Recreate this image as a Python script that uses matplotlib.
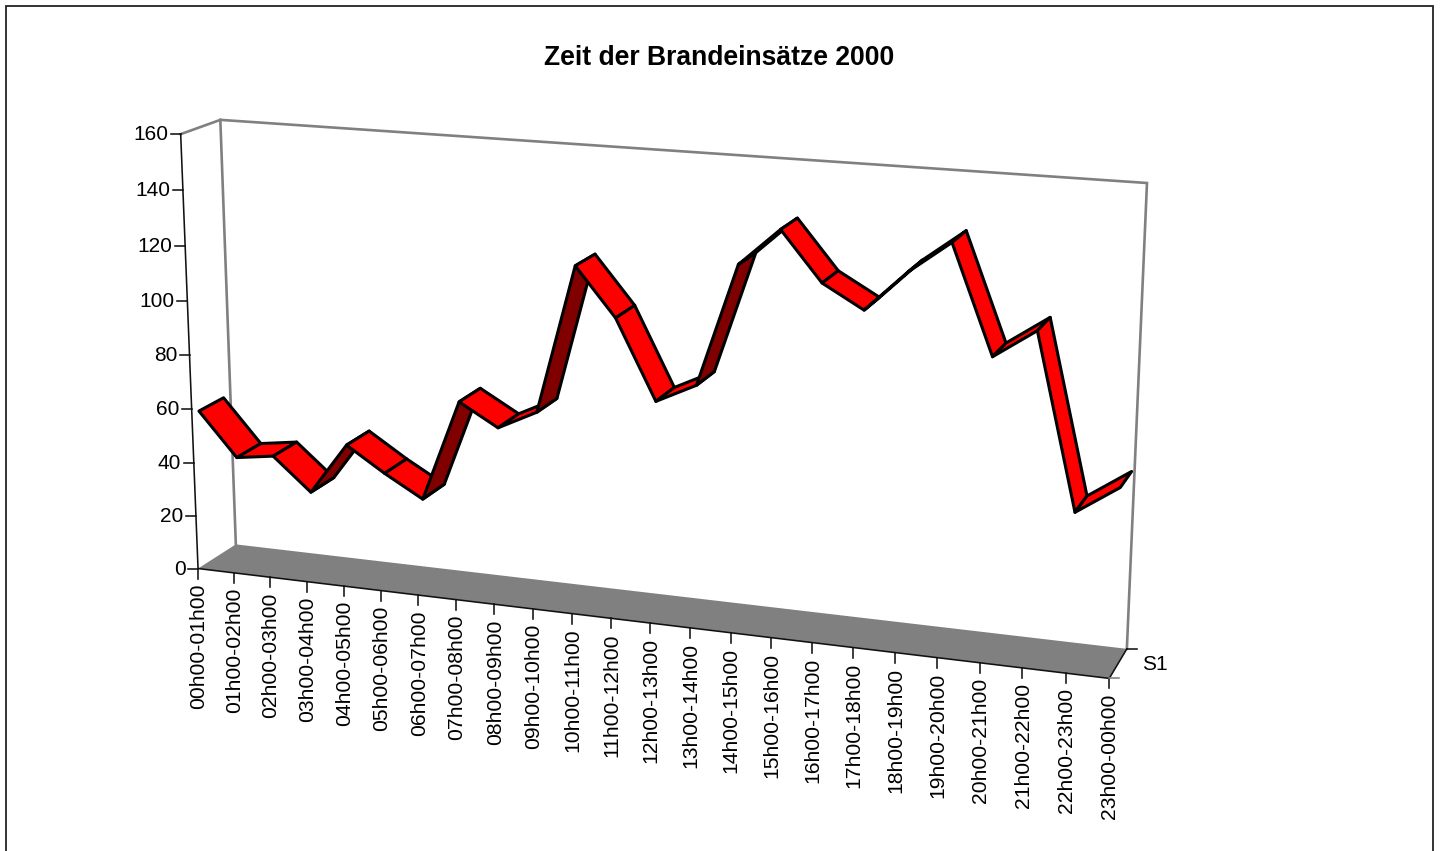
import numpy as np
import matplotlib
matplotlib.use("Agg")
import matplotlib.pyplot as plt
from matplotlib.patches import Polygon

plt.rcParams['font.family'] = ['Liberation Sans', 'DejaVu Sans']

title = "Zeit der Brandeinsätze 2000"
hours = ["00h00-01h00", "01h00-02h00", "02h00-03h00", "03h00-04h00", "04h00-05h00", "05h00-06h00",
         "06h00-07h00", "07h00-08h00", "08h00-09h00", "09h00-10h00", "10h00-11h00", "11h00-12h00",
         "12h00-13h00", "13h00-14h00", "14h00-15h00", "15h00-16h00", "16h00-17h00", "17h00-18h00",
         "18h00-19h00", "19h00-20h00", "20h00-21h00", "21h00-22h00", "22h00-23h00", "23h00-00h00"]
values = [58, 42, 44, 32, 51, 42, 34, 71, 63, 70, 123, 106,
          78, 85, 128, 141, 124, 116, 130, 141, 104, 114, 54, 64]
y_ticks = [0, 20, 40, 60, 80, 100, 120, 140, 160]
series_name = "S1"

W, H = 1442, 851
fig = plt.figure(figsize=(W / 100, H / 100), dpi=100, facecolor="white")
ax = fig.add_axes([0, 0, 1, 1])
ax.set_xlim(0, W)
ax.set_ylim(H, 0)
ax.axis("off")

# Perspective camera of the 3D box, fitted to where the box corners lie on the canvas
n = len(hours) - 1
ymax = y_ticks[-1]
anchors = [((0, 0, 0), (198, 568)), ((0, ymax, 0), (181, 134)), ((n, 0, 0), (1109, 679)),
           ((0, 0, 1), (236, 545)), ((0, ymax, 1), (220, 120)), ((n, ymax, 1), (1147, 183)),
           ((n, 0, 1), (1127, 648)), ((12, 0, 0), (651, 623.2)), ((6, 0, 0), (418, 594.8)),
           ((18, 0, 0), (895, 652.9))]
rows = []
for (a, b, c), (px, py) in anchors:
    a, b, c = a / n, b / ymax, c
    rows.append([a, b, c, 1, 0, 0, 0, 0, -px * a, -px * b, -px * c, -px])
    rows.append([0, 0, 0, 0, a, b, c, 1, -py * a, -py * b, -py * c, -py])
cam = np.linalg.svd(np.array(rows, float))[2][-1].reshape(3, 4)


def proj(cat, val, depth):
    h = cam @ np.array([cat / n, val / ymax, depth, 1.0])
    return h[0] / h[2], h[1] / h[2]


GRAY = "#808080"
INK = "#000000"
d0, d1 = 0.18, 0.82

# frame
ax.plot([5.8, 5.8, 1432.5, 1432.5], [H + 5, 5.5, 5.5, H + 5], color="#222222", lw=1.3, zorder=1,
        solid_joinstyle="miter")

# floor
ax.add_patch(Polygon([proj(0, 0, 0), proj(0, 0, 1), proj(n, 0, 1), proj(n, 0, 0)],
                     closed=True, fc=GRAY, ec="none", zorder=2))

# walls
wall = [proj(0, ymax, 0), proj(0, ymax, 1), proj(n, ymax, 1), proj(n, 0, 1)]
ax.plot(*zip(*wall), color=GRAY, lw=1.9, zorder=2, solid_joinstyle="miter")
ax.plot(*zip(proj(0, ymax, 1), proj(0, 0, 1)), color=GRAY, lw=1.9, zorder=2)

# axes
axline = dict(color="#111111", lw=1.15, zorder=3)
ax.plot(*zip(proj(0, ymax, 0), proj(0, 0, 0), proj(n, 0, 0), proj(n, 0, 1)), **axline)

for v in y_ticks:
    x, y = proj(0, v, 0)
    ax.plot([x - 10, x], [y, y], **axline)
    ax.text(x - 12.5, y + 0.5, str(v), ha="right", va="center", fontsize=15.0, color="black")

for i, lab in enumerate(hours):
    x, y = proj(i, 0, 0)
    ax.plot([x, x], [y, y + 10], **axline)
    ax.text(x + 0.7, y + 15, lab, rotation=90, ha="center", va="top", fontsize=15.2, color="black")

for d, col in ((0, GRAY), (1, "#111111")):
    x, y = proj(n, 0, d)
    ax.plot([x, x + 10], [y, y], color=col, lw=1.15, zorder=3)
x0, y0 = proj(n, 0, 0)
x1, y1 = proj(n, 0, 1)
ax.text(x1 + 15, (y0 + y1) / 2 + 1, series_name, ha="left", va="center", fontsize=15.0, color="black")

# ribbon
for i in range(n):
    a = proj(i, values[i], d0)
    b = proj(i + 1, values[i + 1], d0)
    c = proj(i + 1, values[i + 1], d1)
    e = proj(i, values[i], d1)
    cross = (b[0] - a[0]) * (e[1] - a[1]) - (b[1] - a[1]) * (e[0] - a[0])
    face = "#800000" if cross > 0 else "#FF0000"
    ax.add_patch(Polygon([a, b, c, e], closed=True, fc=face, ec=INK, lw=2.2,
                         joinstyle="round", zorder=4 + i * 0.01))

ax.text(719, 58, title, ha="center", va="center", fontsize=19.1, fontweight="bold", color="black")

fig.savefig("out.png", dpi=100, facecolor="white")
